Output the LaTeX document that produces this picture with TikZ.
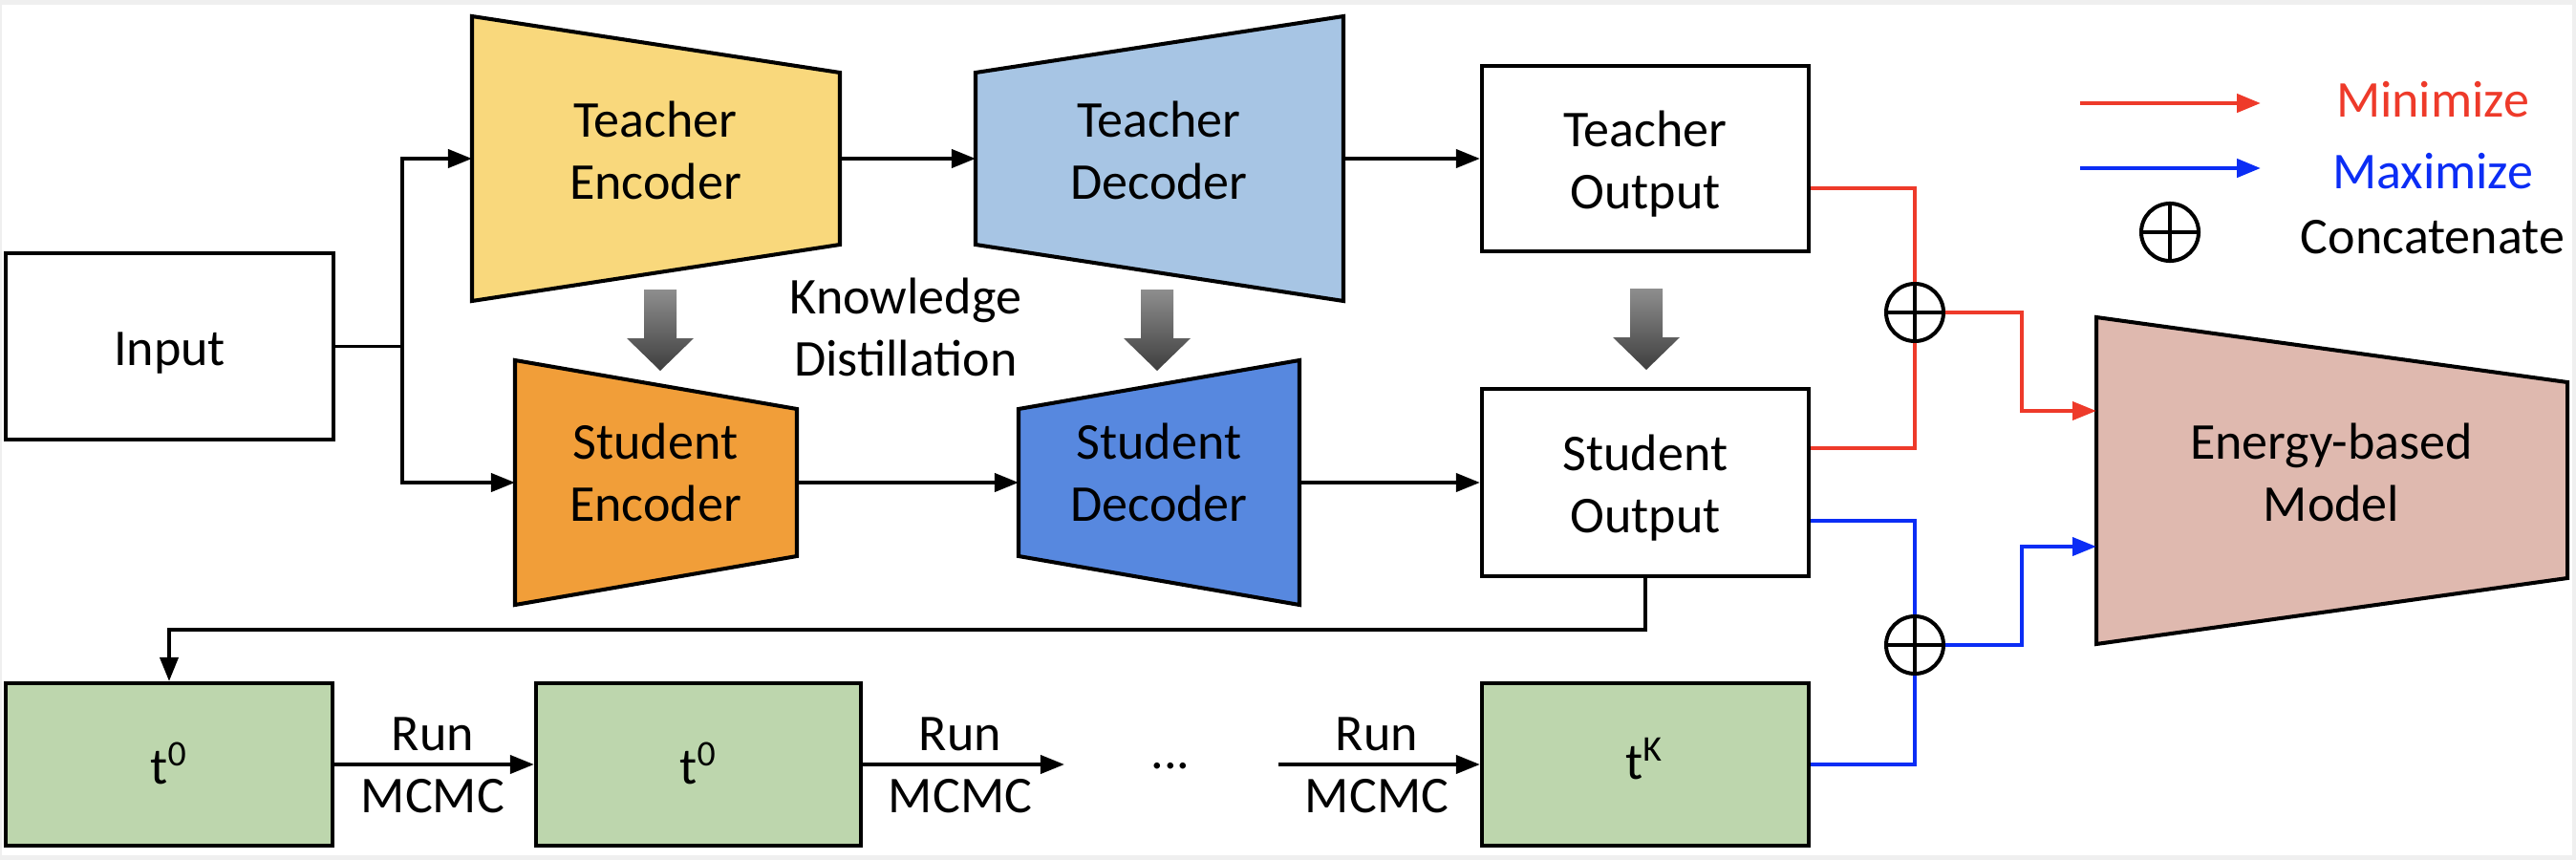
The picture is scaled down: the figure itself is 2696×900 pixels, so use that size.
\documentclass[tikz,border=0pt]{standalone}
\usepackage{fontspec}
\setmainfont{Carlito}
\usetikzlibrary{arrows.meta,calc}
\definecolor{tecol}{HTML}{F9D87C}
\definecolor{secol}{HTML}{F19E39}
\definecolor{tdcol}{HTML}{A7C5E4}
\definecolor{sdcol}{HTML}{5788DF}
\definecolor{grcol}{HTML}{BDD6AD}
\definecolor{ebcol}{HTML}{DFB9AF}
\definecolor{minred}{HTML}{EE3A2A}
\definecolor{maxblue}{HTML}{0B2DF5}
\definecolor{bggray}{HTML}{EFEFEF}
\definecolor{gtop}{HTML}{8E8E8E}
\definecolor{gbot}{HTML}{3E3E3E}
\begin{document}
\begin{tikzpicture}[x=0.01cm,y=-0.01cm,
  font=\fontsize{15.37}{18.5}\selectfont,
  outline/.style={draw=black, line width=1.15pt},
  wbox/.style={outline, fill=white, minimum width=3.42cm, inner sep=0pt},
  gbox/.style={outline, fill=grcol, minimum width=3.42cm, minimum height=1.70cm, inner sep=0pt},
  conn/.style={line width=1.1pt},
  arr/.style={conn, -{Triangle[length=0.25cm,width=0.19cm]}},
  lbl/.style={align=center, inner sep=0pt},
  cat/.style={circle, draw=black, line width=1.15pt, minimum size=0.6cm, inner sep=0pt,
    path picture={\draw[line width=1.15pt] (path picture bounding box.north) -- (path picture bounding box.south)
      (path picture bounding box.west) -- (path picture bounding box.east);}},
  kdarrow/.pic={\shade[top color=gtop, bottom color=gbot]
      (-17,0) -- (17,0) -- (17,51) -- (35,51) -- (0,85) -- (-35,51) -- (-17,51) -- cycle;}
]
\useasboundingbox (0,0) rectangle (2696,900);
\fill[bggray] (0,0) rectangle (2696,900);
\fill[white] (2,5) rectangle (2692,895);

% white boxes
\node[wbox, minimum height=1.95cm] (in) at (177.5,362.5) {};
\node[lbl, anchor=base] (in-t) at (177.5,382) {Input};
\node[wbox, minimum height=1.94cm] (to) at (1722,166) {};
\node[lbl] (to-t) at (1722,172) {Teacher\\Output};
\node[wbox, minimum height=1.96cm] (so) at (1722,505) {};
\node[lbl] (so-t) at (1722,511) {Student\\Output};

% trapezoids
\filldraw[outline, fill=tecol] (494,17) -- (879,76) -- (879,256) -- (494,315) -- cycle;
\coordinate (te-w) at (494,166); \coordinate (te-e) at (879,166);
\node[lbl] (te) at (686,157) {Teacher\\Encoder};

\filldraw[outline, fill=tdcol] (1021,76) -- (1406,17) -- (1406,315) -- (1021,256) -- cycle;
\coordinate (td-w) at (1021,166); \coordinate (td-e) at (1406,166);
\node[lbl] (td) at (1213,157) {Teacher\\Decoder};

\filldraw[outline, fill=secol] (539,377) -- (834,428) -- (834,582) -- (539,633) -- cycle;
\coordinate (se-w) at (539,505); \coordinate (se-e) at (834,505);
\node[lbl] (se) at (686,494) {Student\\Encoder};

\filldraw[outline, fill=sdcol] (1066,428) -- (1360,377) -- (1360,633) -- (1066,582) -- cycle;
\coordinate (sd-w) at (1066,505); \coordinate (sd-e) at (1360,505);
\node[lbl] (sd) at (1213,494) {Student\\Decoder};

\filldraw[outline, fill=ebcol] (2194,332) -- (2687,400) -- (2687,605) -- (2194,674) -- cycle;
\coordinate (ebm-r) at (2194,430); \coordinate (ebm-b) at (2194,572);
\node[lbl] (ebm) at (2440,494) {Energy-based\\Model};

% knowledge distillation
\pic at (691,303) {kdarrow};
\pic at (1211,303) {kdarrow};
\pic at (1723,302) {kdarrow};
\node[lbl] (kd) at (948,342) {Knowledge\\Distillation};

% green boxes
\node[gbox] (g1) at (177,800) {};
\node[lbl, anchor=base] (g1-t) at (177,820) {t\textsuperscript{0}};
\node[gbox, minimum width=3.40cm] (g2) at (731,800) {};
\node[lbl, anchor=base] (g2-t) at (731,820) {t\textsuperscript{0}};
\node[gbox] (g3) at (1722,800) {};
\node[lbl, anchor=base] (g3-t) at (1721,815) {t\textsuperscript{K}};

% black connectors
\coordinate (jn) at (421,362.5);
\draw[conn] (in.east) -- (jn);
\draw[arr] (jn) |- (te-w);
\draw[arr] (jn) |- (se-w);
\draw[arr] (te-e) -- (td-w);
\draw[arr] (td-e) -- (to.west);
\draw[arr] (se-e) -- (sd-w);
\draw[arr] (sd-e) -- (so.west);
\coordinate (fb) at (0,659);
\draw[arr] (so.south) -- (so.south |- fb) -| (g1.north);

\coordinate (d1) at (1114,800); \coordinate (d2) at (1338,800);
\draw[arr] (g1.east) -- (g2.west);
\draw[arr] (g2.east) -- (d1);
\draw[arr] (d2) -- (g3.west);
\node[lbl, anchor=base] (r1) at (453,785) {Run};
\node[lbl, anchor=base] (m1) at (453,850) {MCMC};
\node[lbl, anchor=base] (r2) at (1005,785) {Run};
\node[lbl, anchor=base] (m2) at (1005,850) {MCMC};
\node[lbl, anchor=base] (r3) at (1441,785) {Run};
\node[lbl, anchor=base] (m3) at (1441,850) {MCMC};
\node[lbl] (dots) at (1225,802) {...};

% concatenation and losses
\node[cat] (op1) at (2004,327) {};
\node[cat] (op2) at (2004,675) {};
\draw[conn, minred] ([yshift=-0.31cm]to.east) -| (op1.north);
\draw[conn, minred] ([yshift=0.36cm]so.east) -| (op1.south);
\draw[arr, minred] (op1.east) -- ++(80,0) |- (ebm-r);
\draw[conn, maxblue] ([yshift=-0.40cm]so.east) -| (op2.north);
\draw[conn, maxblue] (g3.east) -| (op2.south);
\draw[arr, maxblue] (op2.east) -- ++(80,0) |- (ebm-b);

% legend
\coordinate (lr1) at (2177,108); \coordinate (lr2) at (2366,108);
\draw[arr, minred, line width=1.3pt] (lr1) -- (lr2);
\node[lbl, anchor=base, text=minred] (min) at (2546,122) {Minimize};
\coordinate (lb1) at (2177,176); \coordinate (lb2) at (2366,176);
\draw[arr, maxblue, line width=1.3pt] (lb1) -- (lb2);
\node[lbl, anchor=base, text=maxblue] (max) at (2546,197) {Maximize};
\node[cat] (op0) at (2271,243) {};
\node[lbl, anchor=base] (cc) at (2546,265) {Concatenate};
\end{tikzpicture}
\end{document}
